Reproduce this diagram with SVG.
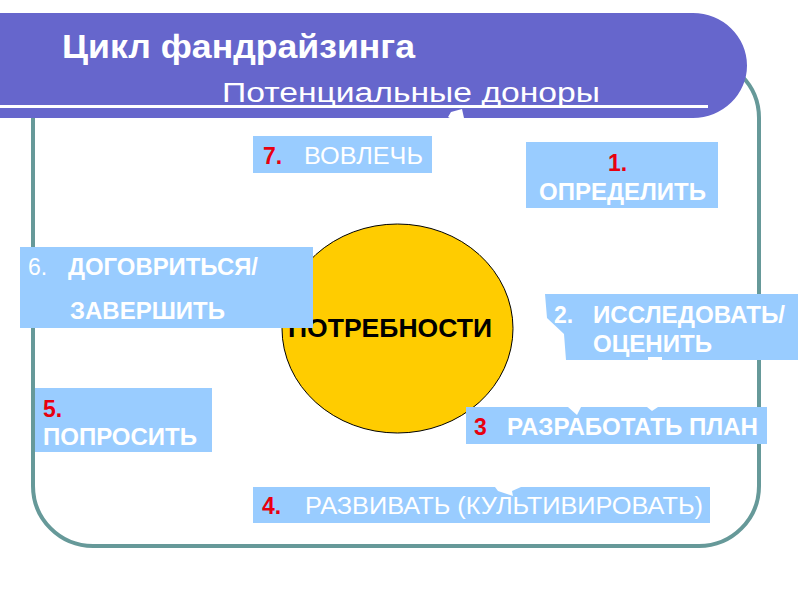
<svg xmlns="http://www.w3.org/2000/svg" width="800" height="600" viewBox="0 0 800 600">
<style>
.box{fill:#99CCFF}
.num{fill:#E8000F;font-family:"Liberation Sans",Arial,sans-serif;font-weight:bold;font-size:23px}
.lbl{fill:#FFFFFF;font-family:"Liberation Sans",Arial,sans-serif;font-size:23px}
.b{font-weight:bold}
.ttl{fill:#FFFFFF;font-family:"Liberation Sans Narrow","Liberation Sans",Arial,sans-serif}
.frag{fill:#FFFFFF}
</style>
<rect width="800" height="600" fill="#FFFFFF"/>
<g id="frame">
<rect x="33" y="58" width="726" height="488" rx="60" ry="60" fill="none" stroke="#669999" stroke-width="4"/>
</g>
<g id="banner">
<path d="M0,13 H693 A54,52.5 0 0 1 693,118 H0 Z" fill="#6666CC"/>
<rect x="0" y="105" width="708" height="3" fill="#FFFFFF"/>
<text class="ttl" x="62" y="58" font-size="33" font-weight="bold" textLength="353" lengthAdjust="spacingAndGlyphs">Цикл фандрайзинга</text>
<text class="ttl" x="222" y="102" font-size="27" textLength="378" lengthAdjust="spacingAndGlyphs">Потенциальные доноры</text>
</g>
<g id="needs">
<ellipse cx="397.5" cy="328.5" rx="115.5" ry="104.5" fill="#FFCC00" stroke="#000000" stroke-width="1"/>
<text x="288" y="337" font-family="'Liberation Sans',Arial,sans-serif" font-weight="bold" font-size="25" fill="#000000" textLength="204" lengthAdjust="spacingAndGlyphs">ПОТРЕБНОСТИ</text>
</g>
<g id="step7">
<rect class="box" x="253" y="136" width="179" height="37"/>
<text class="num" x="263" y="164">7.</text>
<text class="lbl" x="304" y="164" textLength="119" lengthAdjust="spacingAndGlyphs">ВОВЛЕЧЬ</text>
</g>
<g id="step1">
<rect class="box" x="526" y="142" width="192" height="66"/>
<text class="num" x="608" y="171">1.</text>
<text class="lbl b" x="539" y="200" textLength="167" lengthAdjust="spacingAndGlyphs">ОПРЕДЕЛИТЬ</text>
</g>
<g id="step2">
<polygon class="box" points="545,294 798,294 798,360 566,360 564,334 547,318"/>
<text class="lbl b" x="554" y="323">2.</text>
<text class="lbl b" x="593" y="323" textLength="192" lengthAdjust="spacingAndGlyphs">ИССЛЕДОВАТЬ/</text>
<text class="lbl b" x="593" y="352" textLength="119" lengthAdjust="spacingAndGlyphs">ОЦЕНИТЬ</text>
</g>
<g id="step3">
<rect class="box" x="466" y="407" width="301" height="37"/>
<text class="num" x="474" y="435">3</text>
<text class="lbl b" x="507" y="435" textLength="251" lengthAdjust="spacingAndGlyphs">РАЗРАБОТАТЬ ПЛАН</text>
</g>
<g id="step4">
<rect class="box" x="253" y="487" width="457" height="36"/>
<text class="num" x="262" y="514">4.</text>
<text class="lbl" x="305" y="514" textLength="398" lengthAdjust="spacingAndGlyphs">РАЗВИВАТЬ (КУЛЬТИВИРОВАТЬ)</text>
</g>
<g id="step5">
<rect class="box" x="35" y="388" width="177" height="64"/>
<text class="num" x="43" y="417">5.</text>
<text class="lbl b" x="43" y="445" textLength="154" lengthAdjust="spacingAndGlyphs">ПОПРОСИТЬ</text>
</g>
<g id="step6">
<rect class="box" x="20" y="247" width="293" height="81"/>
<text class="lbl" x="28" y="275">6.</text>
<text class="lbl b" x="68" y="275" textLength="190" lengthAdjust="spacingAndGlyphs">ДОГОВРИТЬСЯ/</text>
<text class="lbl b" x="70" y="319" textLength="155" lengthAdjust="spacingAndGlyphs">ЗАВЕРШИТЬ</text>
</g>
<g id="connectors">
<polygon class="frag" points="448,117 451,112 462,109 464,118 455,121"/>
<rect class="frag" x="648" y="357" width="14" height="3"/>
<polygon class="frag" points="568,407 581,407 577,415"/>
<polygon class="frag" points="647,407 658,407 652,411"/>
<polygon class="frag" points="495,487 521,487 512,491 513,496 498,491"/>
</g>
</svg>
